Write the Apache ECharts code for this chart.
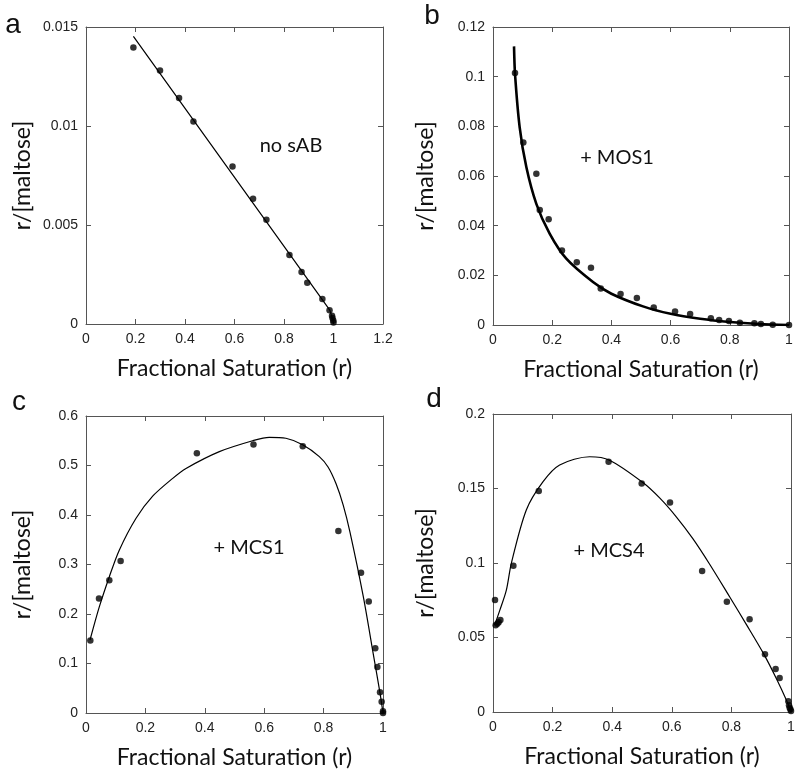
<!DOCTYPE html>
<html>
<head>
<meta charset="utf-8">
<script src="https://cdn.jsdelivr.net/npm/echarts@6/dist/echarts.min.js"></script>
<style>
html,body{margin:0;padding:0;background:#fff;}
#c{width:800px;height:780px;}
</style>
</head>
<body>
<div id="c"></div>
<script>
// ---- Panel a: no sAB ----
const aPtsX = [0.1915,0.299,0.376,0.434,0.592,0.675,0.729,0.822,0.871,0.894,0.955,0.984,0.994,0.996,0.999,1.0];
const aPtsY = [0.01396,0.0128,0.01142,0.01023,0.00795,0.00633,0.00527,0.00349,0.00262,0.00208,0.00126,0.00069,0.00042,0.0003,0.00018,0.00008];
const aFitX = [0.1915,0.985,0.995,1.0];
const aFitY = [0.01453,0.0007,0.0003,0.0];
// ---- Panel b: + MOS1 ----
const bPtsX = [0.0743,0.1025,0.1464,0.158,0.188,0.233,0.283,0.331,0.364,0.431,0.486,0.543,0.615,0.666,0.736,0.764,0.797,0.834,0.883,0.905,0.945,1.0];
const bPtsY = [0.1015,0.0735,0.0609,0.0463,0.0426,0.0300,0.0253,0.0231,0.0147,0.0125,0.0109,0.0070,0.0054,0.0044,0.0027,0.0020,0.0016,0.0009,0.0007,0.0004,0.0001,0.0];
const bFitX = [0.071,0.0743,0.09,0.1126,0.1464,0.1914,0.2477,0.3378,0.4,0.5068,0.6,0.7,0.8,0.9,1.0];
const bFitY = [0.1122,0.1012,0.0797,0.0636,0.0488,0.0368,0.0267,0.0173,0.0126,0.0075,0.0045,0.0025,0.0012,0.0004,0.0];
// ---- Panel c: + MCS1 ----
const cPtsX = [0.0146,0.0437,0.0785,0.1166,0.3733,0.5639,0.7298,0.8498,0.926,0.952,0.974,0.981,0.990,0.9955,1.0,1.0];
const cPtsY = [0.1465,0.2311,0.2681,0.3071,0.5248,0.5422,0.5389,0.3675,0.2835,0.2251,0.131,0.0927,0.0417,0.0228,0.0034,0.0];
const cFitX = [0.0135,0.045,0.0786,0.112,0.168,0.2245,0.292,0.3367,0.449,0.561,0.617,0.673,0.7295,0.7856,0.815,0.842,0.866,0.889,0.9337,0.967,0.99,1.0];
const cFitY = [0.1475,0.2148,0.2754,0.329,0.393,0.438,0.474,0.494,0.528,0.550,0.557,0.555,0.542,0.518,0.497,0.463,0.42,0.365,0.235,0.12,0.04,0.0];
// ---- Panel d: + MCS4 ----
const dPtsX = [0.0067,0.009,0.0146,0.019,0.0247,0.0684,0.1536,0.3879,0.4989,0.594,0.7018,0.7848,0.861,0.9126,0.9484,0.9619,0.991,0.9933,0.9955,0.998,1.0];
const dPtsY = [0.0751,0.0583,0.0592,0.0603,0.0617,0.0982,0.1484,0.1679,0.1534,0.1406,0.0946,0.074,0.0623,0.0388,0.0289,0.0229,0.0072,0.0045,0.0029,0.0018,0.0007];
const dFitX = [0.0056,0.0224,0.0448,0.0615,0.1118,0.168,0.2237,0.3244,0.391,0.503,0.56,0.615,0.67,0.726,0.795,0.851,0.907,0.952,0.9855,1.0];
const dFitY = [0.0583,0.068,0.0818,0.0998,0.1356,0.1546,0.1658,0.1713,0.169,0.154,0.1435,0.131,0.1165,0.0995,0.077,0.0585,0.0395,0.022,0.0075,0.0];

// axis ranges & labels
const panelLetters = ['a','b','c','d'];
const panelNotes = ['no sAB','+ MOS1','+ MCS1','+ MCS4'];
const xTitle = 'Fractional Saturation (r)';
const yTitle = 'r/[maltose]';
const xRanges = [[0,1.2,0.2],[0,1,0.2],[0,1,0.2],[0,1,0.2]];
const yRanges = [[0,0.015,0.005],[0,0.12,0.02],[0,0.6,0.1],[0,0.2,0.05]];

const grids = [
  {left:86, top:27, width:297, height:297},
  {left:493, top:27, width:296, height:298},
  {left:86, top:416, width:297, height:297},
  {left:493, top:414, width:298, height:298}
];
const yNameGaps = [52,56,52,56];
const TITLE_FONT = 'Lato';
const LABEL_FONT = '"Liberation Sans", Arial, sans-serif';
const frameColor = '#555';

function zip(xs, ys){ return xs.map((x,i)=>[x, ys[i]]); }
const pts = [zip(aPtsX,aPtsY), zip(bPtsX,bPtsY), zip(cPtsX,cPtsY), zip(dPtsX,dPtsY)];
const fits = [zip(aFitX,aFitY), zip(bFitX,bFitY), zip(cFitX,cFitY), zip(dFitX,dFitY)];
const fitWidths = [1.2, 2.6, 1.2, 1.2];
const fitSmooth = [0, 0.25, 0.3, 0.3];

const xAxis = [], yAxis = [], series = [];
grids.forEach((g, i) => {
  const [xmin,xmax,xi] = xRanges[i];
  const [ymin,ymax,yi] = yRanges[i];
  const common = {
    gridIndex: i,
    axisLine: {show:true, onZero:false, lineStyle:{color:frameColor, width:1}},
    axisTick: {show:true, inside:true, length:5, lineStyle:{color:frameColor}},
    splitLine: {show:false}
  };
  xAxis.push(Object.assign({}, common, {
    type:'value', position:'bottom', min:xmin, max:xmax, interval:xi,
    axisLabel:{show:true, margin:8, fontSize:14, color:'#222', fontFamily:LABEL_FONT},
    name:xTitle, nameLocation:'middle', nameGap:33,
    nameTextStyle:{fontFamily:TITLE_FONT, fontSize:23, color:'#111'}
  }));
  xAxis.push(Object.assign({}, common, {
    type:'value', position:'top', min:xmin, max:xmax, interval:xi,
    axisLabel:{show:false}
  }));
  yAxis.push(Object.assign({}, common, {
    type:'value', position:'left', min:ymin, max:ymax, interval:yi,
    axisLabel:{show:true, margin:8, fontSize:14, color:'#222', fontFamily:LABEL_FONT},
    name:yTitle, nameLocation:'middle', nameGap:yNameGaps[i],
    nameTextStyle:{fontFamily:TITLE_FONT, fontSize:23, color:'#111'}
  }));
  yAxis.push(Object.assign({}, common, {
    type:'value', position:'right', min:ymin, max:ymax, interval:yi,
    axisLabel:{show:false}
  }));
  series.push({
    type:'line', xAxisIndex:2*i, yAxisIndex:2*i, data:fits[i],
    showSymbol:false, smooth:fitSmooth[i],
    lineStyle:{color:'#000', width:fitWidths[i]}, z:2, silent:true
  });
  series.push({
    type:'scatter', xAxisIndex:2*i, yAxisIndex:2*i, data:pts[i],
    symbol:'circle', symbolSize:6.5, itemStyle:{color:'#000'}, z:3, silent:true
  });
});

const letterPos = [[13,25],[432,16],[19,402],[434,399]];
const notePos = [[291,146],[617,158],[249,548],[609,551]];
const graphic = [];
letterPos.forEach((p,i)=>graphic.push({type:'text', x:p[0], y:p[1],
  style:{text:panelLetters[i], font:'28px "Liberation Sans", Arial, sans-serif', fill:'#111', textAlign:'center', textVerticalAlign:'middle'}}));
notePos.forEach((p,i)=>graphic.push({type:'text', x:p[0], y:p[1],
  style:{text:panelNotes[i], font:'20px '+TITLE_FONT, fill:'#111', textAlign:'center', textVerticalAlign:'middle'}}));

const chart = echarts.init(document.getElementById('c'), null, {renderer:'canvas'});
chart.setOption({
  animation:false,
  backgroundColor:'#fff',
  grid: grids,
  xAxis, yAxis, series, graphic
});
</script>
</body>
</html>
